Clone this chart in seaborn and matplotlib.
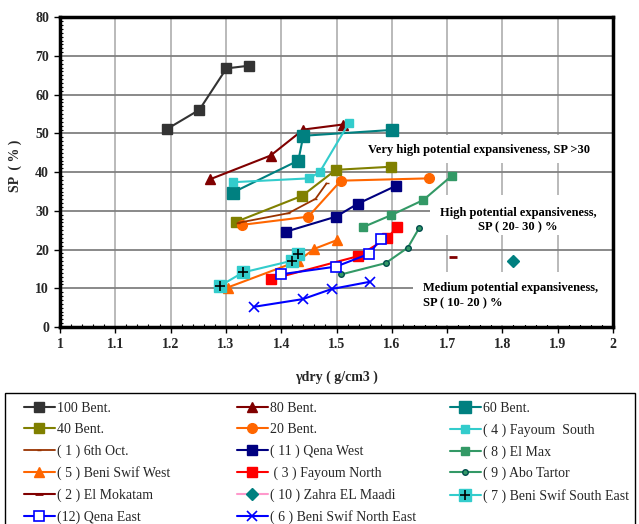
import matplotlib
matplotlib.use("Agg")
import matplotlib.pyplot as plt
import seaborn as sns
from matplotlib.patches import Rectangle
from matplotlib.legend_handler import HandlerTuple

# ---------------- data ----------------
bent100_x = [1.193, 1.252, 1.301, 1.342]
bent100_y = [51.1, 56.1, 66.8, 67.5]
bent80_x = [1.272, 1.381, 1.440, 1.511]
bent80_y = [38.2, 44.3, 51.0, 52.3]
bent60_x = [1.312, 1.431, 1.440, 1.600]
bent60_y = [34.7, 43.0, 49.4, 50.9]
bent40_x = [1.319, 1.438, 1.499, 1.599]
bent40_y = [27.2, 33.9, 40.6, 41.4]
bent20_x = [1.330, 1.449, 1.508, 1.668]
bent20_y = [26.4, 28.5, 37.8, 38.4]
fayoum_south_x = [1.312, 1.451, 1.470, 1.522]
fayoum_south_y = [37.4, 38.4, 40.1, 52.6]
oct6_x = [1.322, 1.413, 1.462, 1.482]
oct6_y = [26.9, 29.4, 33.1, 37.1]
qena_west_x = [1.408, 1.499, 1.538, 1.608]
qena_west_y = [24.6, 28.5, 31.8, 36.5]
el_max_x = [1.548, 1.599, 1.657, 1.708]
el_max_y = [25.8, 28.9, 32.8, 39.0]
beni_swif_west_x = [1.303, 1.430, 1.460, 1.500]
beni_swif_west_y = [10.2, 17.0, 20.2, 22.4]
fayoum_north_x = [1.381, 1.539, 1.591, 1.610]
fayoum_north_y = [12.3, 18.3, 22.9, 25.8]
abo_tartor_x = [1.509, 1.589, 1.629, 1.650]
abo_tartor_y = [13.6, 16.5, 20.5, 25.7]
el_mokatam_x = [1.710]
el_mokatam_y = [18.2]
zahra_x = [1.820]
zahra_y = [17.1]
beni_swif_se_x = [1.289, 1.331, 1.419, 1.431]
beni_swif_se_y = [10.6, 14.1, 17.1, 18.8]
qena_east_x = [1.399, 1.499, 1.559, 1.580]
qena_east_y = [13.6, 15.6, 18.9, 22.7]
beni_swif_ne_x = [1.350, 1.439, 1.491, 1.561]
beni_swif_ne_y = [5.2, 7.2, 9.8, 11.7]

labels = ["100 Bent.", "80 Bent.", "60 Bent.", "40 Bent.", "20 Bent.",
          "( 4 ) Fayoum  South", "( 1 ) 6th Oct.", "( 11 ) Qena West",
          "( 8 ) El Max", "( 5 ) Beni Swif West", " ( 3 ) Fayoum North",
          "( 9 ) Abo Tartor", "( 2 ) El Mokatam", "( 10 ) Zahra EL Maadi",
          "( 7 ) Beni Swif South East", "(12) Qena East",
          "( 6 ) Beni Swif North East"]

x_ticks = [1, 1.1, 1.2, 1.3, 1.4, 1.5, 1.6, 1.7, 1.8, 1.9, 2]
x_ticklabels = ["1", "1.1", "1.2", "1.3", "1.4", "1.5", "1.6", "1.7", "1.8", "1.9", "2"]
y_ticks = [0, 10, 20, 30, 40, 50, 60, 70, 80]

# ---------------- style ----------------
sns.set_theme(style="white")
plt.rcParams["font.family"] = ["Liberation Serif", "DejaVu Serif"]

fig = plt.figure(figsize=(6.39, 5.24), dpi=100)
ax = fig.add_axes([60 / 639, 1 - 327 / 524, 553 / 639, (327 - 17.3) / 524])

lw = 1.5
series = [
    (bent100_x, bent100_y, dict(color="#333333", marker="s", markersize=6.5, mfc="#333333", mec="#333333")),
    (bent80_x, bent80_y, dict(color="#800000", marker="^", markersize=7.5, mfc="#800000", mec="#800000")),
    (bent60_x, bent60_y, dict(color="#008080", marker="s", markersize=8.5, mfc="#008080", mec="#008080")),
    (bent40_x, bent40_y, dict(color="#808000", marker="s", markersize=6.5, mfc="#808000", mec="#808000")),
    (bent20_x, bent20_y, dict(color="#FF6600", marker="o", markersize=7, mfc="#FF6600", mec="#FF6600")),
    (fayoum_south_x, fayoum_south_y, dict(color="#33CCCC", marker="s", markersize=6.2, mfc="#33CCCC", mec="#33CCCC")),
    (oct6_x, oct6_y, dict(color="#993300", marker="_", markersize=3, mfc="#993300", mec="#993300")),
    (qena_west_x, qena_west_y, dict(color="#000080", marker="s", markersize=6.5, mfc="#000080", mec="#000080")),
    (el_max_x, el_max_y, dict(color="#339966", marker="s", markersize=5.3, mfc="#339966", mec="#339966")),
    (beni_swif_west_x, beni_swif_west_y, dict(color="#FF6600", marker="^", markersize=7, mfc="#FF6600", mec="#FF6600")),
    (fayoum_north_x, fayoum_north_y, dict(color="#FF0000", marker="s", markersize=6.5, mfc="#FF0000", mec="#FF0000")),
    (abo_tartor_x, abo_tartor_y, dict(color="#339966", marker="o", markersize=4, mfc="#339966", mec="#004C4C")),
    (el_mokatam_x, el_mokatam_y, dict(color="#800000", marker="_", markersize=6, mfc="#800000", mec="#800000", mew=2)),
    (zahra_x, zahra_y, dict(color="#FF99CC", marker="D", markersize=6, mfc="#008080", mec="#008080")),
    (beni_swif_se_x, beni_swif_se_y, dict(color="#33CCCC", marker="s", markersize=9, mfc="#33CCCC", mec="#33CCCC")),
    (qena_east_x, qena_east_y, dict(color="#0000FF", marker="s", markersize=6.5, mfc="white", mec="#0000FF", mew=1.2)),
    (beni_swif_ne_x, beni_swif_ne_y, dict(color="#0000FF", marker="x", markersize=7, mfc="#0000FF", mec="#0000FF", mew=1.2)),
]

handles = []
for i, (xs, ys, kw) in enumerate(series):
    kw = dict(kw)
    mew = kw.pop("mew", 1.0)
    this_lw = 1.3 if i == 6 else lw
    sns.lineplot(x=xs, y=ys, ax=ax, sort=False, estimator=None, linewidth=this_lw,
                 markeredgewidth=mew, markerfacecolor=kw.pop("mfc"),
                 markeredgecolor=kw.pop("mec"), zorder=3 + i * 0.01, **kw)
    line = ax.lines[-1]
    if i == 14:
        sns.lineplot(x=xs, y=ys, ax=ax, sort=False, estimator=None, linestyle="none",
                     marker="+", markersize=7, markeredgewidth=1.2,
                     markeredgecolor="black", color="black", zorder=3.2)
        handles.append((line, ax.lines[-1]))
    else:
        handles.append(line)

# annotation boxes (white panels covering grid)
ax.add_patch(Rectangle((1.552, 42.4), 0.448, 7.1, facecolor="white", edgecolor="none", zorder=1.5))
ax.add_patch(Rectangle((1.669, 23.8), 0.331, 10.3, facecolor="white", edgecolor="none", zorder=1.5))
ax.add_patch(Rectangle((1.638, 0.5), 0.362, 13.7, facecolor="white", edgecolor="none", zorder=1.5))

tfont = dict(fontsize=9, fontweight="bold", color="black", zorder=1.6)
ax.text(1.757, 45.6, "Very high potential expansiveness, SP >30", ha="center", va="center", **tfont)
ax.text(1.828, 27.6, "High potential expansiveness,\nSP ( 20- 30 ) %", ha="center", va="center",
        multialignment="center", linespacing=1.3, **tfont)
ax.text(1.656, 8.1, "Medium potential expansiveness,\nSP ( 10- 20 ) %", ha="left", va="center",
        multialignment="left", linespacing=1.3, **tfont)

# axes
ax.set_xlim(1, 2)
ax.set_ylim(0, 80)
ax.set_xticks(x_ticks)
ax.set_xticklabels(x_ticklabels)
ax.set_yticks(y_ticks)
ax.set_xticks([1 + 0.02 * k for k in range(51)], minor=True)
ax.set_yticks(list(range(0, 81)), minor=True)
ax.set_axisbelow(True)
ax.grid(False)
ax.yaxis.grid(True, which="major", color="#808080", linewidth=1.3)
ax.xaxis.grid(True, which="major", color="#b4b4b4", linewidth=1.3)
for sp in ax.spines.values():
    sp.set_visible(True)
    sp.set_color("black")
    sp.set_linewidth(2.5)
    sp.set_zorder(5)
ax.tick_params(axis="both", which="major", direction="out", length=4, width=1,
               color="black", labelsize=10, pad=4)
ax.tick_params(axis="both", which="minor", direction="in", length=2.5, width=0.8, color="black")
ax.tick_params(axis="x", which="both", bottom=True, top=False)
ax.tick_params(axis="y", which="both", left=True, right=False)
for t in ax.get_xticklabels() + ax.get_yticklabels():
    t.set_fontweight("bold")
ax.set_xlabel("γdry ( g/cm3 )", fontsize=10, fontweight="bold", labelpad=14)
ax.set_ylabel("SP  ( % )", fontsize=10, fontweight="bold")
ax.yaxis.set_label_coords(-0.069, 0.52)

# legend: three columns, row-major order
col_starts = [24 / 639, 237 / 639, 450 / 639]
top = 1 - 402 / 524
for c in range(3):
    idx = list(range(c, len(labels), 3))
    fig.legend([handles[k] for k in idx], [labels[k] for k in idx],
               loc="upper left", bbox_to_anchor=(col_starts[c], top),
               bbox_transform=fig.transFigure, frameon=False, borderpad=0,
               borderaxespad=0, handlelength=2.2, handletextpad=0.2,
               labelspacing=0.60, prop={"family": "Liberation Serif", "size": 10},
               handler_map={tuple: HandlerTuple(ndivide=1, pad=0)})
fig.add_artist(Rectangle((5 / 639, -0.05), 630 / 639, (1 - 393 / 524) + 0.05,
                         transform=fig.transFigure, fill=False, edgecolor="black",
                         linewidth=1.0))

fig.savefig("out.png", dpi=100)
